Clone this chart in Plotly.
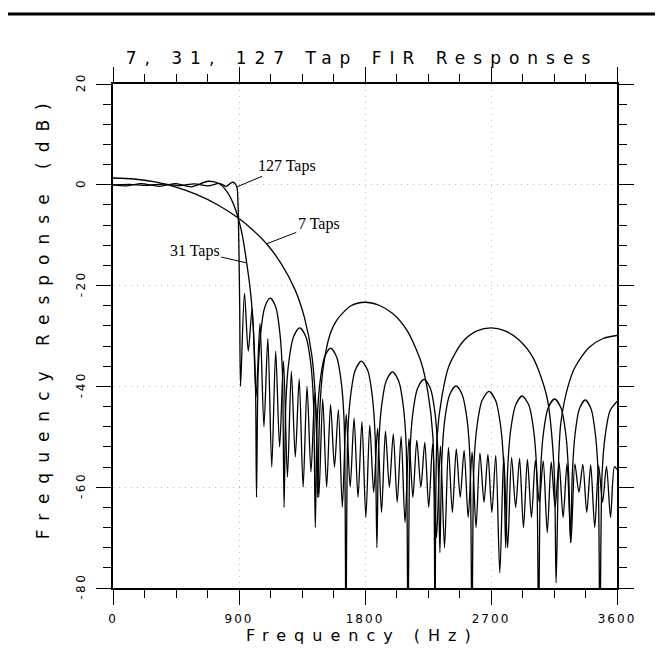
import plotly.graph_objects as go

# ---------------- data ----------------
x_tick_vals = [0, 900, 1800, 2700, 3600]
x_tick_text = ["0", "900", "1800", "2700", "3600"]
y_tick_vals = [20, 0, -20, -40, -60, -80]
y_tick_text = ["20", "0", "-20", "-40", "-60", "-80"]

# 7-tap FIR response (Hz, dB)
freq_7 = [0, 150, 300, 450, 600, 750, 900, 1000, 1100, 1200, 1300, 1368, 1420, 1450,
          1462, 1476, 1500, 1550, 1600, 1700, 1800, 1900, 2000, 2100, 2200, 2250,
          2285, 2300, 2315, 2350, 2400, 2500, 2600, 2700, 2800, 2900, 3000, 3100,
          3150, 3165, 3185, 3200, 3250, 3300, 3400, 3500, 3600]
db_7 = [1.35, 1.15, 0.56, -0.46, -1.95, -4.0, -6.7, -9.0, -11.8, -15.6, -20.8, -26.4, -33.8, -44.7,
        -62.0, -45.3, -36.6, -29.7, -26.8, -24.0, -23.3, -23.9, -25.6, -28.9, -35.1, -41.3,
        -50.0, -90.0, -50.0, -41.9, -35.9, -31.1, -29.0, -28.4, -29.0, -30.8, -34.3, -42.2,
        -56.0, -79.0, -53.0, -47.0, -40.0, -36.2, -32.3, -30.5, -29.9]

# 31-tap FIR response (Hz, dB)
freq_31 = [0, 100, 200, 330, 450, 560, 680, 760, 820, 870, 920, 955, 985, 1005, 1018, 1025,
           1037, 1055, 1084, 1123, 1163, 1192, 1210, 1222,
           1235, 1255, 1289, 1333, 1378, 1412, 1432, 1445,
           1458, 1478, 1511, 1554, 1598, 1631, 1651, 1664,
           1677, 1697, 1730, 1774, 1819, 1852, 1872, 1885,
           1898, 1918, 1952, 1996, 2040, 2074, 2094, 2107,
           2121, 2141, 2175, 2221, 2267, 2301, 2321, 2335,
           2349, 2369, 2404, 2450, 2495, 2530, 2550, 2564,
           2578, 2600, 2636, 2685, 2733, 2769, 2791, 2805,
           2819, 2840, 2876, 2922, 2970, 3005, 3026, 3040,
           3054, 3074, 3108, 3154, 3200, 3234, 3254, 3268,
           3281, 3300, 3331, 3373, 3415, 3446, 3465, 3478,
           3493, 3515, 3551, 3600]
db_31 = [0.0, -0.2, 0.25, -0.3, 0.25, -0.4, 0.7, 0.2, -1.6, -4.5, -9.5, -15.5, -22.0, -30.0, -40.0, -62.0,
         -37.1, -29.4, -24.3, -22.5, -24.3, -29.4, -37.1, -64.0,
         -43.0, -35.3, -30.2, -28.4, -30.2, -35.3, -43.0, -68.0,
         -47.0, -39.3, -34.2, -32.4, -34.2, -39.3, -47.0, -90.0,
         -49.6, -41.9, -36.8, -35.0, -36.8, -41.9, -49.6, -72.0,
         -51.7, -44.0, -38.9, -37.1, -38.9, -44.0, -51.7, -90.0,
         -53.2, -45.5, -40.4, -38.6, -40.4, -45.5, -53.2, -73.0,
         -54.5, -46.8, -41.7, -39.9, -41.7, -46.8, -54.5, -90.0,
         -55.6, -47.9, -42.8, -41.0, -42.8, -47.9, -55.6, -72.0,
         -56.5, -48.8, -43.7, -41.9, -43.7, -48.8, -56.5, -90.0,
         -57.1, -49.4, -44.3, -42.5, -44.3, -49.4, -57.1, -71.0,
         -57.3, -49.6, -44.5, -42.7, -44.5, -49.6, -57.3, -90.0,
         -57.6, -49.9, -44.8, -43.0]

# 127-tap FIR response (Hz, dB)
freq_127 = [0, 120, 240, 360, 480, 580, 680, 760, 810, 850, 870, 886, 893, 899, 905, 911,
            939, 966, 994, 1022, 1050, 1078, 1106, 1134, 1162, 1190, 1218, 1246, 1274, 1302,
            1330, 1358, 1386, 1414, 1442, 1470, 1498, 1526, 1554, 1582, 1610, 1638, 1666, 1694,
            1722, 1750, 1778, 1806, 1834, 1862, 1890, 1918, 1946, 1974, 2002, 2030, 2058, 2086,
            2114, 2142, 2170, 2199, 2227, 2255, 2283, 2311, 2339, 2368, 2396, 2424, 2452, 2480,
            2508, 2537, 2565, 2593, 2621, 2650, 2678, 2706, 2734, 2763, 2791, 2819, 2847, 2876,
            2904, 2932, 2960, 2989, 3017, 3045, 3073, 3102, 3130, 3158, 3186, 3215, 3243, 3271,
            3299, 3328, 3356, 3384, 3412, 3441, 3469, 3497, 3525, 3554, 3582, 3600]
db_127 = [0.0, 0.1, -0.1, 0.15, -0.15, 0.2, -0.2, 0.3, -0.3, 0.5, 0.3, -0.6, -4.0, -12.0, -24.0, -40.0,
          -21.5, -33.0, -24.5, -42.0, -27.5, -48.0, -30.5, -56.0, -33.0, -52.0, -35.0, -58.0, -37.0, -54.0,
          -38.5, -60.0, -40.0, -57.0, -41.3, -62.0, -42.5, -60.0, -43.6, -56.0, -44.6, -64.0, -45.5, -60.0,
          -46.3, -62.0, -47.0, -66.0, -47.7, -61.0, -48.3, -65.0, -48.9, -60.0, -49.4, -63.0, -49.9, -67.0,
          -50.3, -62.0, -50.7, -60.0, -51.1, -64.0, -51.4, -70.0, -51.8, -72.0, -52.1, -65.0, -52.4, -62.0,
          -52.7, -66.0, -53.0, -68.0, -53.2, -63.0, -53.5, -65.0, -53.7, -77.0, -53.9, -72.0, -54.1, -64.0,
          -54.3, -68.0, -54.5, -66.0, -54.7, -63.0, -54.8, -69.0, -55.0, -64.0, -55.1, -66.0, -55.3, -71.0,
          -55.4, -61.0, -55.5, -65.0, -55.6, -68.0, -55.7, -63.0, -55.8, -66.0, -55.9, -56.5]

title_text = "7, 31, 127 Tap FIR Responses"
x_title = "Frequency (Hz)"
y_title = "Frequency Response (dB)"
labels = ["127 Taps", "7 Taps", "31 Taps"]
label_points_x = [886, 1098, 955]
label_points_y = [-0.4, -11.7, -15.5]

# ---------------- figure ----------------
def spaced(t, px):
    return f'<span style="letter-spacing:{px}px">{t}</span>'

fig = go.Figure()
line_style = dict(color="black", width=1.3, shape="spline", smoothing=0.8)
fig.add_trace(go.Scatter(x=freq_7, y=db_7, mode="lines", line=line_style, name="7 Taps"))
fig.add_trace(go.Scatter(x=freq_31, y=db_31, mode="lines", line=line_style, name="31 Taps"))
fig.add_trace(go.Scatter(x=freq_127, y=db_127, mode="lines", line=line_style, name="127 Taps"))

sans = "DejaVu Sans"
title_font = dict(family=sans, size=17, color="black")
fig.update_layout(
    width=663, height=650,
    margin=dict(l=105, r=54, t=76, b=70, autoexpand=False),
    paper_bgcolor="white", plot_bgcolor="white", showlegend=False,
    title=dict(text=spaced(title_text, 8), x=0.494, xref="paper", xanchor="center",
               y=1 - 50 / 650, yref="container", yanchor="middle", font=title_font),
)
fig.update_xaxes(
    range=[0, 3600], tickmode="array", tickvals=x_tick_vals,
    ticktext=[spaced(t, 2) for t in x_tick_text],
    tickfont=dict(family=sans, size=12, color="black"),
    ticks="outside", ticklen=15, tickwidth=1.2, tickcolor="black",
    showline=True, linecolor="black", linewidth=1.6, mirror="allticks",
    showgrid=True, gridcolor="#bbbbbb", gridwidth=1, griddash="1px,5px",
    zeroline=False, ticklabelstandoff=4,
    minor=dict(dtick=225, tick0=0, ticks="outside", ticklen=8, tickwidth=1, tickcolor="black", showgrid=False),
)
fig.update_yaxes(
    range=[-80, 20], tickmode="array", tickvals=y_tick_vals,
    ticktext=[spaced(t, 2.5) for t in y_tick_text], tickangle=-90,
    tickfont=dict(family=sans, size=12, color="black"),
    ticks="outside", ticklen=15, tickwidth=1.2, tickcolor="black",
    showline=True, linecolor="black", linewidth=1.6, mirror="allticks",
    showgrid=True, gridcolor="#bbbbbb", gridwidth=1, griddash="1px,5px",
    zeroline=False, ticklabelstandoff=6,
    minor=dict(dtick=4, tick0=0, ticks="outside", ticklen=8, tickwidth=1, tickcolor="black", showgrid=False),
)

# axis titles placed as paper-anchored texts so they sit where the reference has them
fig.add_annotation(text=spaced(x_title, 8), xref="paper", yref="paper", x=0.495, y=-0.0952,
                   xanchor="center", yanchor="middle", showarrow=False, borderpad=0,
                   font=dict(family=sans, size=16, color="black"))
fig.add_annotation(text=spaced(y_title, 10), xref="paper", yref="paper", x=-0.14, y=0.54,
                   xanchor="center", yanchor="middle", textangle=-90, showarrow=False, font=title_font)

offsets = [(50, -21), (52, -20), (-52, -12)]
for txt, px_, py_, (axo, ayo) in zip(labels, label_points_x, label_points_y, offsets):
    fig.add_annotation(x=px_, y=py_, text=txt, showarrow=True, arrowhead=0, arrowwidth=1,
                       arrowcolor="black", ax=axo, ay=ayo, standoff=0,
                       font=dict(family="Liberation Serif", size=16, color="black"))

# heavy rule across the top of the page
fig.add_shape(type="line", xref="paper", yref="paper", x0=-0.23, x1=1.2, y0=1.139, y1=1.139,
              line=dict(color="black", width=3))

fig.write_html("out.html")
